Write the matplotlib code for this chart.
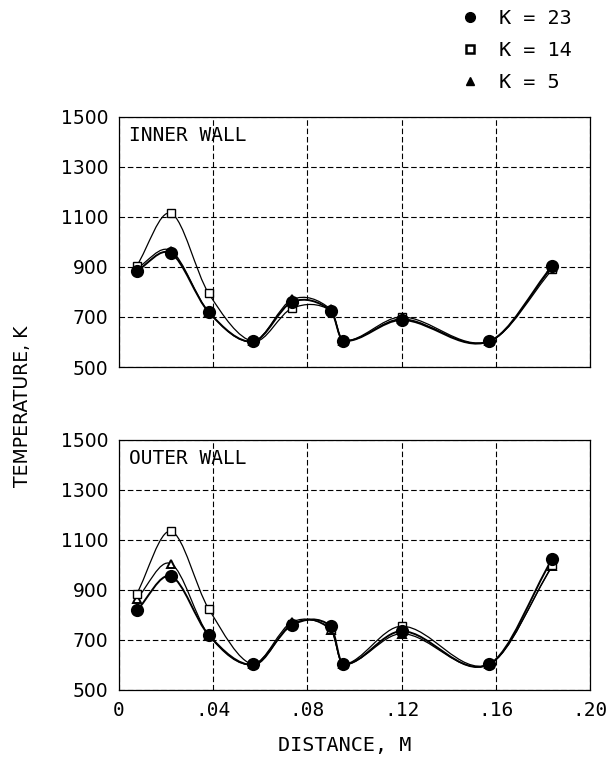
import numpy as np
import matplotlib
matplotlib.use("Agg")
import matplotlib.pyplot as plt
from matplotlib.path import Path
from matplotlib.patches import PathPatch
from matplotlib.lines import Line2D

# distance along wall, m (same stations on both walls)
distance = [0.0075, 0.022, 0.038, 0.057, 0.0735, 0.090, 0.095, 0.120, 0.157, 0.184]

# inner wall temperatures, K
inner_k23 = [885, 955, 720, 602, 760, 725, 605, 688, 602, 905]
inner_k14 = [905, 1115, 795, 602, 735, 725, 605, 700, 602, 890]
inner_k5 = [895, 965, 720, 602, 770, 730, 605, 692, 602, 900]

# outer wall temperatures, K
outer_k23 = [818, 955, 720, 602, 760, 755, 602, 735, 602, 1025]
outer_k14 = [885, 1135, 825, 602, 765, 745, 602, 755, 602, 998]
outer_k5 = [865, 1005, 720, 602, 772, 740, 602, 725, 602, 995]

xticks = [0, 0.04, 0.08, 0.12, 0.16, 0.20]
xtick_labels = ["0", ".04", ".08", ".12", ".16", ".20"]
yticks = [500, 700, 900, 1100, 1300, 1500]

MONO = "DejaVu Sans Mono"
SANS = "DejaVu Sans"


def smooth_path(xs, ys):
    """Cubic Bezier path through the points (Hermite style tangents)."""
    xs = np.asarray(xs, float)
    ys = np.asarray(ys, float)
    n = len(xs)
    m = np.zeros(n)
    m[0] = (ys[1] - ys[0]) / (xs[1] - xs[0])
    m[-1] = (ys[-1] - ys[-2]) / (xs[-1] - xs[-2])
    for i in range(1, n - 1):
        m[i] = (ys[i + 1] - ys[i - 1]) / (xs[i + 1] - xs[i - 1])
    verts = [(xs[0], ys[0])]
    codes = [Path.MOVETO]
    for i in range(n - 1):
        dx = xs[i + 1] - xs[i]
        verts += [
            (xs[i] + dx / 3, ys[i] + m[i] * dx / 3),
            (xs[i + 1] - dx / 3, ys[i + 1] - m[i + 1] * dx / 3),
            (xs[i + 1], ys[i + 1]),
        ]
        codes += [Path.CURVE4] * 3
    return Path(verts, codes)


styles = {
    "k5": dict(marker="^", ms=6, mfc="white", mec="black", mew=1.4),
    "k14": dict(marker="s", ms=5.5, mfc="white", mec="black", mew=1.0),
    "k23": dict(marker="o", ms=9.5, mfc="black", mec="black", mew=0),
}
line_w = {"k5": 0.9, "k14": 0.9, "k23": 1.4}

fig = plt.figure(figsize=(6.14, 7.63), dpi=100)
ax_top = fig.add_axes([0.194, 0.519, 0.767, 0.3277])
ax_bot = fig.add_axes([0.194, 0.0957, 0.767, 0.3277])

panels = [
    (ax_top, "INNER WALL", {"k5": inner_k5, "k14": inner_k14, "k23": inner_k23}),
    (ax_bot, "OUTER WALL", {"k5": outer_k5, "k14": outer_k14, "k23": outer_k23}),
]

for ax, title, series in panels:
    for key in ["k5", "k14", "k23"]:
        ys = series[key]
        ax.add_patch(PathPatch(smooth_path(distance, ys), fill=False,
                               edgecolor="black", lw=line_w[key], zorder=3))
        ax.plot(distance, ys, linestyle="none", zorder=4, **styles[key])
    ax.set_xlim(0, 0.20)
    ax.set_ylim(500, 1500)
    ax.set_xticks(xticks)
    ax.set_yticks(yticks)
    ax.set_yticklabels([str(v) for v in yticks], fontfamily=SANS, fontsize=13.5)
    ax.grid(True, color="black", linestyle=(0, (5, 2.5)), linewidth=0.8)
    ax.tick_params(length=0, pad=8)
    for sp in ax.spines.values():
        sp.set_linewidth(0.9)
    ax.text(0.02, 0.965, title, transform=ax.transAxes, ha="left", va="top",
            fontfamily=MONO, fontsize=14)

ax_top.set_xticklabels([])
ax_bot.set_xticklabels(xtick_labels, fontfamily=MONO, fontsize=14)
ax_bot.set_xlabel("DISTANCE, M", fontfamily=MONO, fontsize=14.5)
ax_bot.xaxis.set_label_coords(0.48, -0.185)

fig.text(0.037, 0.467, "TEMPERATURE, K", rotation=90, ha="center", va="center",
         fontfamily=SANS, fontsize=13.5)

handles = [
    Line2D([], [], linestyle="none", marker="o", ms=7, mfc="black", mec="black"),
    Line2D([], [], linestyle="none", marker="s", ms=5.5, mfc="white", mec="black", mew=1.8),
    Line2D([], [], linestyle="none", marker="^", ms=6, mfc="black", mec="black"),
]
leg = fig.legend(handles, ["K = 23", "K = 14", "K = 5"], loc="upper left",
                 bbox_to_anchor=(0.72, 1.012), frameon=False, handlelength=1.0,
                 handletextpad=0.95, labelspacing=0.65,
                 prop={"family": MONO, "size": 14.5})

fig.savefig("out.png", dpi=100)
